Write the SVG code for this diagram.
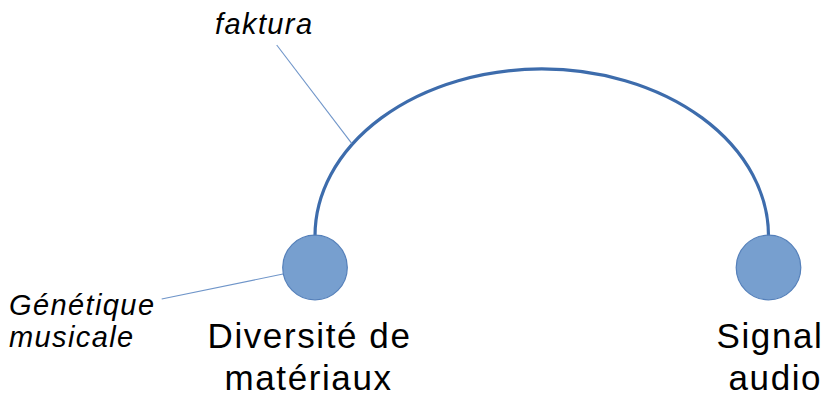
<svg xmlns="http://www.w3.org/2000/svg" width="830" height="400" viewBox="0 0 830 400">
<style>
.bg{fill:#ffffff}
.arc{fill:none;stroke:#3d6cac;stroke-width:3.2}
.lead{fill:none;stroke:#6f95c9;stroke-width:1.1}
.node{fill:#779fcf;stroke:#5580ba;stroke-width:1.2}
.lbl{font-family:"Liberation Sans",Arial,sans-serif;font-size:35px;fill:#000;letter-spacing:1.6px}
.note{font-family:"Liberation Sans",Arial,sans-serif;font-size:29px;font-style:italic;fill:#000;letter-spacing:1.4px}
</style>
<rect class="bg" x="0" y="0" width="830" height="400"/>
<g id="connectors">
<path class="arc" d="M315,236 A226.7,167 0 0 1 768.5,236"/>
<line class="lead" x1="276.7" y1="45" x2="351.7" y2="143.3"/>
<line class="lead" x1="161.7" y1="299" x2="283" y2="274"/>
</g>
<g id="node-diversite">
<circle class="node" cx="315" cy="267.5" r="32.3"/>
<text class="lbl" x="207.5" y="347.7">Diversité de</text>
<text class="lbl" x="224.5" y="390">matériaux</text>
</g>
<g id="node-signal">
<circle class="node" cx="768.5" cy="267.5" r="32.3"/>
<text class="lbl" x="716.5" y="347.7">Signal</text>
<text class="lbl" x="728.5" y="390">audio</text>
</g>
<g id="label-faktura">
<text class="note" x="215" y="33.5">faktura</text>
</g>
<g id="label-genetique">
<text class="note" x="9" y="315">Génétique</text>
<text class="note" x="9" y="346.5">musicale</text>
</g>
</svg>
